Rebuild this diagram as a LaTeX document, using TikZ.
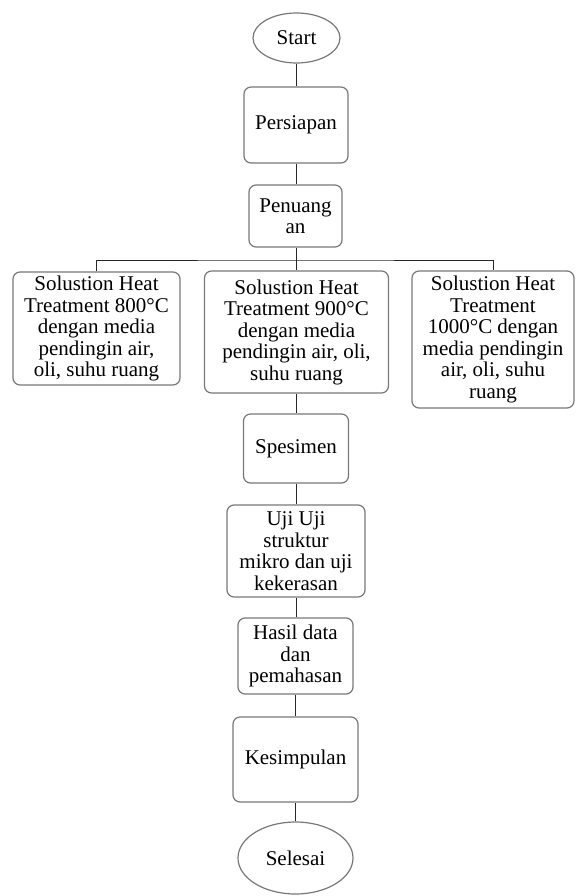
\documentclass[tikz,border=0pt]{standalone}
\usepackage{fontspec}
\setmainfont{Liberation Serif}
\usetikzlibrary{shapes.geometric}
\definecolor{boxgray}{RGB}{120,120,120}
\definecolor{linegray}{RGB}{40,40,40}
\begin{document}
\begin{tikzpicture}[x=1pt,y=-1pt,
  every node/.style={font=\fontsize{21}{21.5}\selectfont, align=center, inner sep=0pt},
  procbox/.style={draw=boxgray, line width=1.2pt, rounded corners=7pt, fill=white},
  termin/.style={draw=boxgray, line width=1.2pt, ellipse, fill=white},
  conn/.style={draw=linegray, line width=0.9pt}]
\useasboundingbox (0,0) rectangle (576,896);
\node[termin, minimum width=87pt, minimum height=50pt] (start) at (296.5,38) {Start};
\node[procbox, minimum width=104pt, minimum height=76pt] (prep) at (296,125) {Persiapan};
\node[procbox, minimum width=93pt, minimum height=62pt] (pour) at (295.5,216) {Penuang\\an};
\coordinate (j) at (296.5,260);
\node[procbox, minimum width=167pt, minimum height=113pt] (t800) at (96.5,328.5) {Solustion Heat\\Treatment 800°C\\dengan media\\pendingin air,\\oli, suhu ruang};
\node[procbox, minimum width=184pt, minimum height=122pt] (t900) at (296.5,332) {Solustion Heat\\Treatment 900°C\\dengan media\\pendingin air, oli,\\suhu ruang};
\node[procbox, minimum width=162pt, minimum height=137pt] (t1000) at (493,339.5) {Solustion Heat\\Treatment\\1000°C dengan\\media pendingin\\air, oli, suhu\\ruang};
\node[procbox, minimum width=105pt, minimum height=69pt] (spes) at (296,448.5) {Spesimen};
\node[procbox, minimum width=138pt, minimum height=92pt] (uji) at (296,551) {Uji Uji\\struktur\\mikro dan uji\\kekerasan};
\node[procbox, minimum width=115pt, minimum height=76pt] (hasil) at (295.5,656) {Hasil data\\dan\\pemahasan};
\node[procbox, minimum width=125pt, minimum height=85pt] (kes) at (295.5,759.5) {Kesimpulan};
\node[termin, minimum width=115pt, minimum height=72pt] (sel) at (295.5,858) {Selesai};
\path[conn] (start.south) -- (start.south |- prep.north);
\path[conn] (prep.south) -- (prep.south |- pour.north);
\path[conn] (pour.south -| j) -- (j);
\path[conn] (t800.north) |- (j) -| (t1000.north);
\path[conn] (j) -- (j |- t900.north);
\path[conn] (t900.south -| spes.north) -- (spes.north);
\path[conn] (spes.south) -- (spes.south |- uji.north);
\path[conn] (uji.south) -- (uji.south |- hasil.north);
\path[conn] (hasil.south) -- (hasil.south |- kes.north);
\path[conn] (kes.south) -- (kes.south |- sel.north);
\end{tikzpicture}
\end{document}
